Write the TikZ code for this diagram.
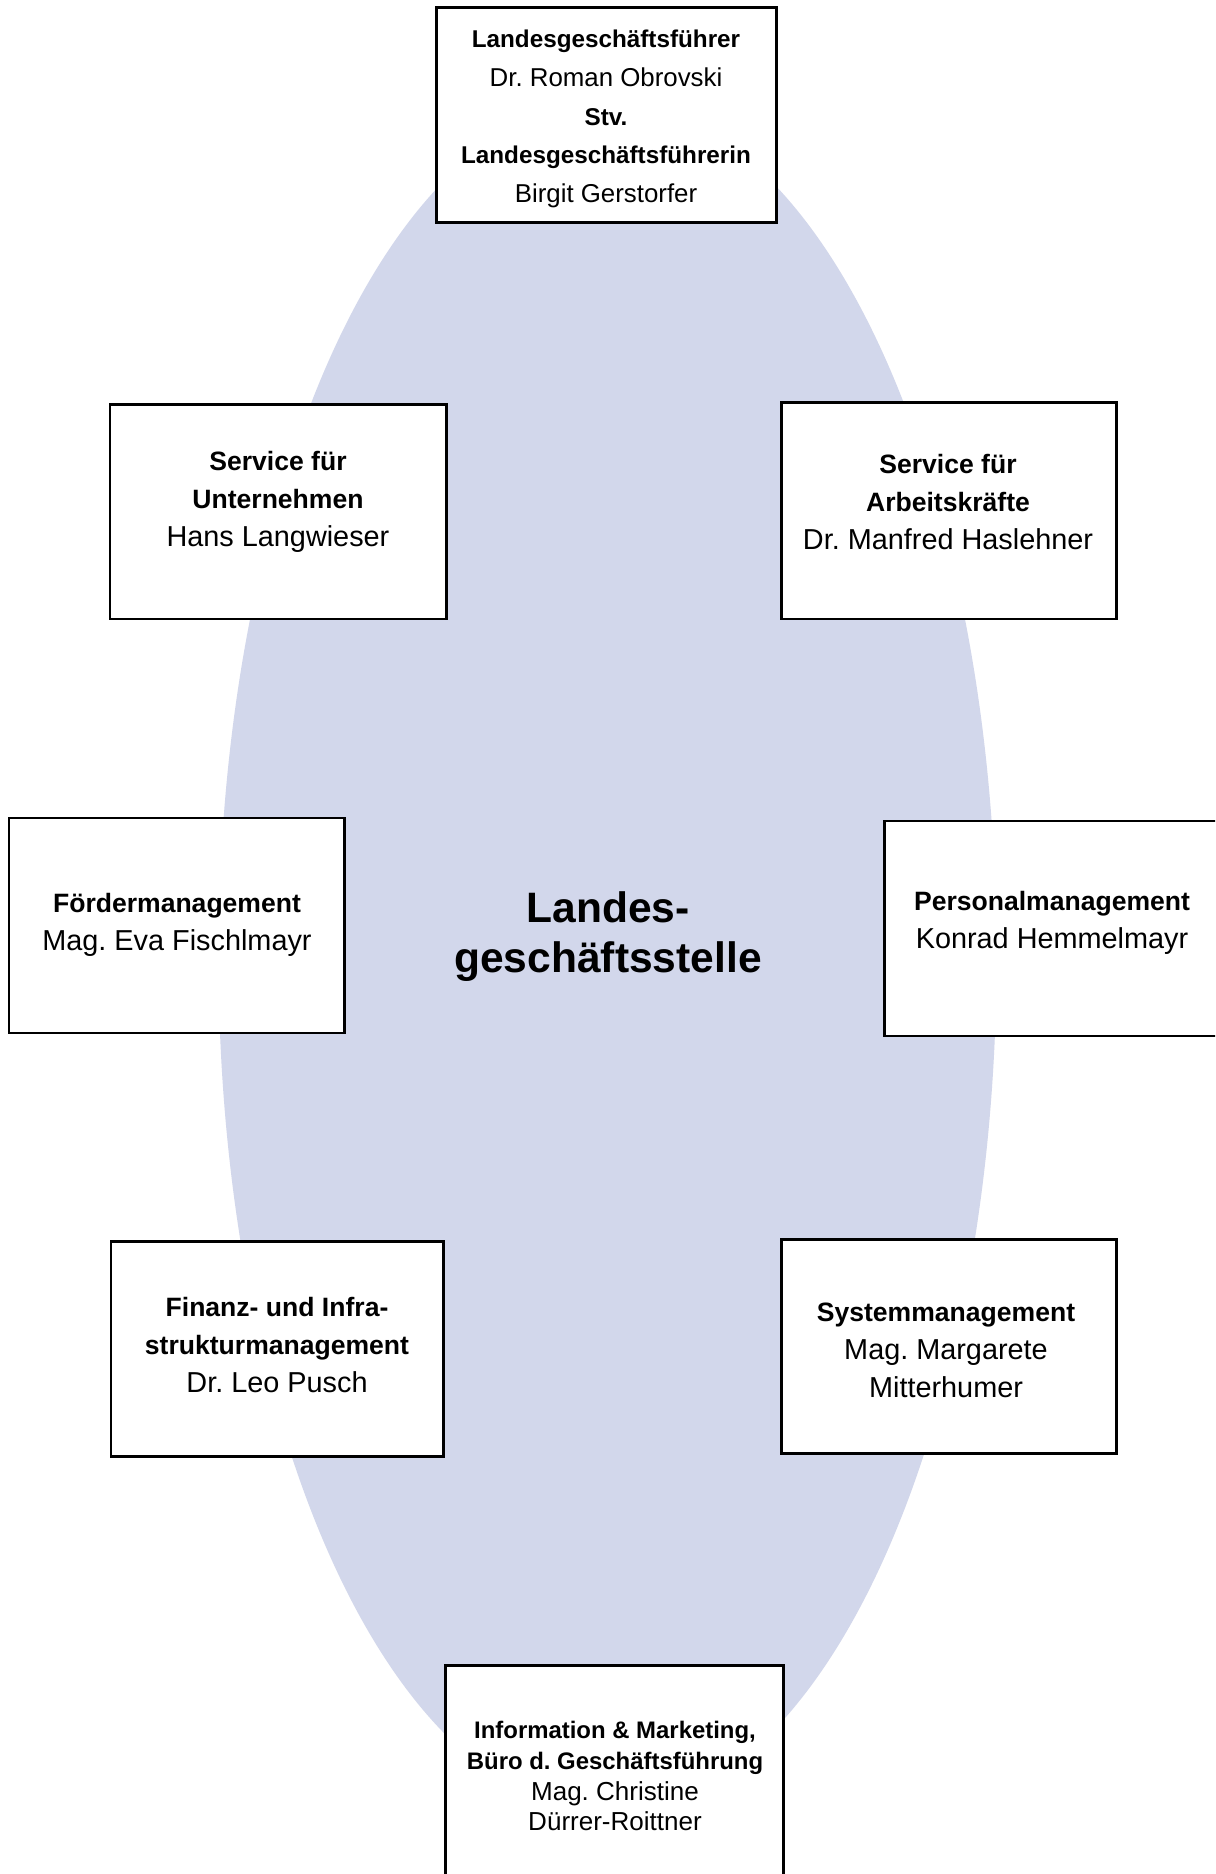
\documentclass[tikz,border=0pt]{standalone}
\usepackage{fontspec}
\setmainfont{Liberation Sans}
\usetikzlibrary{fit}
\frenchspacing
\definecolor{ellfill}{RGB}{210,215,235}
\tikzset{
  boxnode/.style={draw=black, line width=0.85pt, fill=white, inner sep=0pt},
  txt/.style={align=center, inner sep=0pt, text=black},
  stdtxt/.style={txt, font=\fontsize{8.2}{10.8}\selectfont},
  toptxt/.style={txt, font=\fontsize{7.35}{11}\selectfont},
  infotxt/.style={txt, font=\fontsize{7.4}{8.8}\selectfont},
}
\newcommand{\bstd}[1]{{\fontsize{7.55}{10.8}\selectfont\bfseries #1}}
\newcommand{\btop}[1]{{\fontsize{6.9}{11}\selectfont\bfseries #1}}
\newcommand{\binfo}[1]{{\fontsize{6.8}{8.8}\selectfont\bfseries #1}}
\begin{document}
\begin{tikzpicture}[x=0.01cm, y=-0.01cm]
\frenchspacing
\useasboundingbox (0,0) rectangle (1215,1874);
\clip (0,0) rectangle (1215,1874);
\fill[white] (0,0) rectangle (1215,1874);
\fill[ellfill] (607.5,957) ellipse [x radius=389, y radius=855];

% corner coordinates of boxes
\coordinate (t1) at (436,8);    \coordinate (t2) at (776,223);
\coordinate (su1) at (110,405); \coordinate (su2) at (446,619);
\coordinate (sa1) at (781,403); \coordinate (sa2) at (1116,619);
\coordinate (fm1) at (9,818);   \coordinate (fm2) at (344,1033);
\coordinate (pm1) at (884,821); \coordinate (pm2) at (1222,1036);
\coordinate (fi1) at (111,1241);\coordinate (fi2) at (443,1456);
\coordinate (sm1) at (781,1239);\coordinate (sm2) at (1116,1453);
\coordinate (im1) at (445,1665);\coordinate (im2) at (783,1882);

\node[boxnode, fit=(t1)(t2)] (top) {};
\node[boxnode, fit=(su1)(su2)] (su) {};
\node[boxnode, fit=(sa1)(sa2)] (sa) {};
\node[boxnode, fit=(fm1)(fm2)] (fm) {};
\node[boxnode, fit=(pm1)(pm2)] (pm) {};
\node[boxnode, fit=(fi1)(fi2)] (fi) {};
\node[boxnode, fit=(sm1)(sm2)] (sm) {};
\node[boxnode, fit=(im1)(im2)] (im) {};

\node[toptxt] (toptext) at (606,119) {\btop{Landesgeschäftsführer}\\Dr. Roman Obrovski\\\btop{Stv.}\\\btop{Landesgeschäftsführerin}\\Birgit Gerstorfer};
\node[stdtxt] (sutext) at (278,502) {\bstd{Service für}\\\bstd{Unternehmen}\\Hans Langwieser};
\node[stdtxt] (satext) at (948,502) {\bstd{Service für}\\\bstd{Arbeitskräfte}\\Dr. Manfred Haslehner};
\node[stdtxt] (fmtext) at (177,925) {\bstd{Fördermanagement}\\Mag. Eva Fischlmayr};
\node[stdtxt] (pmtext) at (1052,923) {\bstd{Personalmanagement}\\Konrad Hemmelmayr};
\node[stdtxt] (fitext) at (277,1345) {\bstd{Finanz- und Infra-}\\\bstd{strukturmanagement}\\Dr. Leo Pusch};
\node[stdtxt] (smtext) at (946,1350) {\bstd{Systemmanagement}\\Mag. Margarete\\Mitterhumer};
\node[infotxt] (imtext) at (615,1776) {\binfo{Information \& Marketing,}\\\binfo{Büro d. Geschäftsführung}\\Mag. Christine\\Dürrer-Roittner};

\node[txt, font=\fontsize{12.1}{14.2}\selectfont\bfseries] (center) at (608,937) {Landes-\\geschäftsstelle};
\end{tikzpicture}
\end{document}
